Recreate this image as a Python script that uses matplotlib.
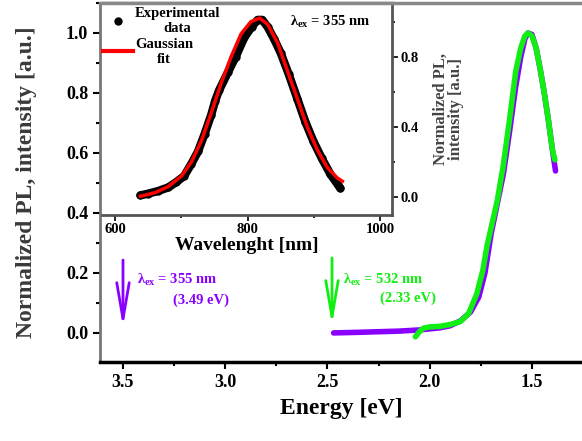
import matplotlib
matplotlib.use('Agg')
import matplotlib.pyplot as plt
from matplotlib.lines import Line2D
from matplotlib.ticker import MultipleLocator

# main panel: PL vs energy for two excitation wavelengths
e_exc355 = [2.47, 2.35, 2.25, 2.15, 2.05, 1.95, 1.90, 1.85, 1.80, 1.76, 1.73, 1.70,
            1.67, 1.64, 1.61, 1.58, 1.555, 1.535, 1.52, 1.50, 1.48, 1.46, 1.44, 1.42,
            1.40, 1.385]
pl_exc355 = [0.0, 0.002, 0.004, 0.006, 0.010, 0.017, 0.024, 0.040, 0.070, 0.12, 0.20, 0.33,
             0.43, 0.53, 0.67, 0.82, 0.92, 0.98, 1.0, 0.995, 0.95, 0.88, 0.80, 0.71,
             0.61, 0.54]

e_exc532 = [2.07, 2.05, 2.03, 2.0, 1.95, 1.90, 1.85, 1.81, 1.77, 1.74, 1.72, 1.70,
            1.67, 1.64, 1.61, 1.58, 1.555, 1.535, 1.52, 1.50, 1.48, 1.46, 1.44, 1.42,
            1.40, 1.388]
pl_exc532 = [-0.013, 0.005, 0.016, 0.020, 0.022, 0.028, 0.038, 0.065, 0.13, 0.21, 0.29, 0.35,
             0.44, 0.56, 0.71, 0.87, 0.95, 0.99, 1.0, 0.99, 0.95, 0.88, 0.80, 0.71,
             0.61, 0.577]

# inset: PL vs wavelength, 355 nm excitation
wl_exp = [638, 650, 665, 680, 692, 704, 715, 725, 735, 745, 751, 757, 770, 782, 795, 806,
          815, 822, 830, 840, 850, 862, 875, 887, 899, 912, 925, 940]
pl_exp = [0.01, 0.02, 0.035, 0.055, 0.085, 0.12, 0.19, 0.26, 0.36, 0.47, 0.55, 0.61, 0.71,
          0.80, 0.91, 0.97, 1.01, 1.01, 0.97, 0.90, 0.82, 0.70, 0.56, 0.43, 0.32, 0.22,
          0.13, 0.05]

wl_fit = [638, 660, 680, 700, 715, 730, 745, 760, 775, 790, 805, 818, 830, 845, 860, 875,
          890, 905, 920, 935, 943]
pl_fit = [0.005, 0.025, 0.06, 0.12, 0.20, 0.32, 0.48, 0.65, 0.80, 0.93, 1.0, 1.02, 0.985,
          0.88, 0.72, 0.56, 0.40, 0.27, 0.17, 0.11, 0.09]

purple = '#8a00ff'
green = '#11ee11'

plt.rcParams['font.family'] = ['Liberation Serif', 'DejaVu Serif']
plt.rcParams['font.weight'] = 'bold'
plt.rcParams['axes.labelweight'] = 'bold'
plt.rcParams['mathtext.fontset'] = 'custom'
plt.rcParams['mathtext.rm'] = 'Liberation Serif:bold'
plt.rcParams['mathtext.it'] = 'Liberation Serif:italic:bold'
plt.rcParams['mathtext.bf'] = 'Liberation Serif:bold'

fig = plt.figure(figsize=(5.82, 4.41), dpi=100)
ax = fig.add_axes([0.1718, 0.1791, 0.8282, 0.8141])
ax.plot(e_exc355, pl_exc355, color=purple, lw=4, solid_capstyle='round')
ax.plot(e_exc532, pl_exc532, color=green, lw=4, solid_capstyle='round')
ax.set_xlim(3.6125, 1.2555)
ax.set_ylim(-0.097, 1.1)
ax.xaxis.set_major_locator(MultipleLocator(0.5))
ax.xaxis.set_minor_locator(MultipleLocator(0.25))
ax.yaxis.set_major_locator(MultipleLocator(0.2))
ax.yaxis.set_minor_locator(MultipleLocator(0.1))
ax.tick_params(which='both', direction='out', width=1.5, labelsize=13)
ax.tick_params(which='major', length=5)
ax.tick_params(which='minor', length=3)
ax.spines['right'].set_visible(False)
ax.spines['top'].set_color('#888888')
ax.spines['top'].set_linewidth(2.5)
ax.spines['left'].set_color('#777777')
ax.spines['left'].set_linewidth(2)
ax.spines['bottom'].set_linewidth(2.5)
ax.set_xlabel('Energy [eV]', fontsize=17)
ax.set_ylabel('Normalized PL, intensity [a.u.]', fontsize=17, color='#3a3a3a')
ax.xaxis.set_label_coords(0.5, -0.1)
ax.yaxis.set_label_coords(-0.13, 0.5)

arrow_style = '->,head_length=2.6,head_width=0.45'
ax.annotate('', xy=(3.5, 0.02), xytext=(3.5, 0.243),
            arrowprops=dict(arrowstyle=arrow_style, color=purple, lw=2,
                            mutation_scale=10, shrinkA=0, shrinkB=0))
ax.text(3.43, 0.177, 'λ$_{\\mathrm{ex}}$ = 355 nm', color=purple, fontsize=10.5,
        ha='left', va='center')
ax.text(3.255, 0.11, '(3.49 eV)', color=purple, fontsize=10.5, ha='left', va='center')

ax.annotate('', xy=(2.478, 0.027), xytext=(2.478, 0.25),
            arrowprops=dict(arrowstyle=arrow_style, color=green, lw=2,
                            mutation_scale=10, shrinkA=0, shrinkB=0))
ax.text(2.424, 0.177, 'λ$_{\\mathrm{ex}}$ = 532 nm', color=green, fontsize=10.5,
        ha='left', va='center')
ax.text(2.243, 0.115, '(2.33 eV)', color=green, fontsize=10.5, ha='left', va='center')

# inset
ins = fig.add_axes([0.1753, 0.5125, 0.4983, 0.4807])
ins.plot(wl_exp, pl_exp, color='k', lw=6, marker='o', ms=5, solid_capstyle='round')
ins.plot(wl_fit, pl_fit, color='red', lw=2.5)
ins.set_xlim(580, 1018)
ins.set_ylim(-0.102, 1.106)
ins.xaxis.set_major_locator(MultipleLocator(200))
ins.xaxis.set_minor_locator(MultipleLocator(100))
ins.yaxis.tick_right()
ins.yaxis.set_label_position('right')
ins.yaxis.set_major_locator(MultipleLocator(0.4))
ins.yaxis.set_minor_locator(MultipleLocator(0.2))
ins.tick_params(which='both', direction='out', width=1.2, labelsize=10.5, pad=2)
ins.tick_params(which='major', length=4)
ins.tick_params(which='minor', length=2.5)
ins.spines['left'].set_visible(False)
ins.spines['top'].set_color('#888888')
ins.spines['top'].set_linewidth(2.5)
for s in ['bottom', 'right']:
    ins.spines[s].set_color('#555555')
    ins.spines[s].set_linewidth(2)
ins.set_xlabel('Wavelenght [nm]', fontsize=14)
ins.xaxis.set_label_coords(0.5, -0.105)
ins.set_ylabel('Normalized PL,\nintensity [a.u.]', fontsize=12, color='#444444',
               linespacing=0.95)
ins.yaxis.set_label_coords(1.141, 0.5)
ins.text(0.648, 0.91, 'λ$_{\\mathrm{ex}}$ = 355 nm', transform=ins.transAxes,
         fontsize=10.5, ha='left', va='center')

handles = [Line2D([], [], ls='none', marker='o', color='k', ms=5),
           Line2D([], [], color='red', lw=3)]
leg = ins.legend(handles, ['Experimental\ndata', 'Gaussian\nfit'], loc='upper left',
                 bbox_to_anchor=(-0.01, 1.0), frameon=False, fontsize=10.5,
                 handlelength=2.0, handletextpad=0.15, labelspacing=0.15,
                 borderaxespad=0.1, borderpad=0.2, numpoints=1)
for t in leg.get_texts():
    t.set_multialignment('center')

fig.savefig('out.png', dpi=100)
